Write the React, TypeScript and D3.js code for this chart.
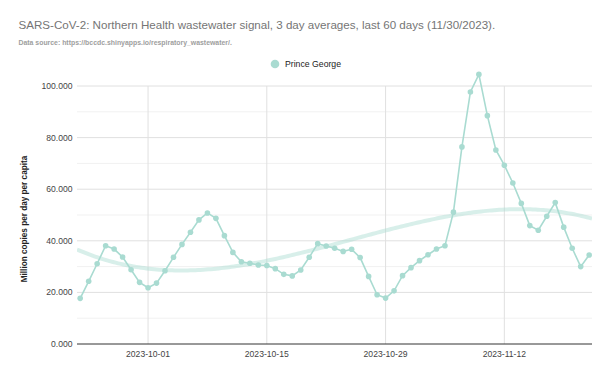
import React from "react";
import * as d3 from "d3";

const startDate = "2023-09-23";
const values: number[] = [
  17.7, 24.3, 31.1, 38.1, 36.8, 33.7, 28.8, 23.9,
  21.8, 23.6, 28.4, 33.6, 38.6, 43.3, 48.1, 50.8, 48.7, 42.0, 35.5, 31.9, 31.3, 30.6, 30.4, 29.2, 27.0, 26.4, 28.7, 33.6, 38.9, 38.0, 37.1, 35.9, 36.7, 33.5, 26.2, 19.1, 17.8, 20.6, 26.5,
  29.6, 32.3, 34.6, 36.8, 38.1, 51.1, 76.4, 97.7, 104.5, 88.5, 75.2, 69.3, 62.4, 54.5, 45.9, 44.1, 49.5, 54.8, 45.3, 37.1, 30.0, 34.5,
];
const xTickLabels = ["2023-10-01", "2023-10-15", "2023-10-29", "2023-11-12"];
const yTicks = [0, 20, 40, 60, 80, 100];
const yMinor = [10, 30, 50, 70, 90];
const seriesName = "Prince George";
const title = "SARS-CoV-2: Northern Health wastewater signal, 3 day averages, last 60 days (11/30/2023).";
const subtitle = "Data source: https://bccdc.shinyapps.io/respiratory_wastewater/.";

const W = 611, H = 377;
const L = 77, R = 592, T = 86, B = 344;
const COLOR = "#a9dbd1";
const FONT = "Liberation Sans, Arial, sans-serif";

const parse = d3.utcParse("%Y-%m-%d");
const day0 = parse(startDate)!;
const dates = values.map((_, i) => d3.utcDay.offset(day0, i));
const data = values.map((v, i) => ({ d: dates[i], v }));

// polynomial (cubic) least-squares trendline derived from the data
function polyFit(xs: number[], ys: number[], deg: number): number[] {
  const n = deg + 1;
  const A: number[][] = Array.from({ length: n }, () => new Array(n + 1).fill(0));
  for (let k = 0; k < xs.length; k++) {
    for (let i = 0; i < n; i++) {
      for (let j = 0; j < n; j++) A[i][j] += Math.pow(xs[k], i + j);
      A[i][n] += Math.pow(xs[k], i) * ys[k];
    }
  }
  for (let i = 0; i < n; i++) {
    let p = i;
    for (let r = i + 1; r < n; r++) if (Math.abs(A[r][i]) > Math.abs(A[p][i])) p = r;
    [A[i], A[p]] = [A[p], A[i]];
    for (let r = 0; r < n; r++) {
      if (r === i) continue;
      const f = A[r][i] / A[i][i];
      for (let c = i; c <= n; c++) A[r][c] -= f * A[i][c];
    }
  }
  return A.map((row, i) => row[n] / row[i]);
}

export default function App() {
  const x = d3
    .scaleUtc()
    .domain([d3.utcHour.offset(dates[0], -8.5), d3.utcHour.offset(dates[dates.length - 1], 8)])
    .range([L, R]);
  const y = d3.scaleLinear().domain([0, 100]).range([B, T]);

  const idx = values.map((_, i) => (i - 30) / 30);
  const coef = polyFit(idx, values, 3);
  const tDomain = x.domain();
  const trendPts = d3.range(0, 201).map((k) => {
    const t = new Date(+tDomain[0] + ((+tDomain[1] - +tDomain[0]) * k) / 200);
    const di = (+t - +day0) / 86400000;
    const u = (di - 30) / 30;
    const v = coef.reduce((s, c, p) => s + c * Math.pow(u, p), 0);
    return [x(t), y(v)] as [number, number];
  });

  const line = d3
    .line<{ d: Date; v: number }>()
    .x((p) => x(p.d))
    .y((p) => y(p.v));

  const tickDates = xTickLabels.map((s) => parse(s)!);

  return (
    <svg width={W} height={H} style={{ position: "absolute", left: 0, top: 0, background: "#fff" }} fontFamily={FONT}>
      <defs>
        <clipPath id="plotClip">
          <rect x={L} y={50} width={R - L} height={B - 50} />
        </clipPath>
      </defs>
      <text x={18.5} y={29} fontSize={11.6} fill="#757575">{title}</text>
      <text x={18.5} y={44.8} fontSize={6.9} fill="#9e9e9e" fontWeight="bold">{subtitle}</text>

      <circle cx={275} cy={64} r={4.3} fill={COLOR} />
      <text x={285} y={67.3} fontSize={8.7} fill="#222">{seriesName}</text>

      {yMinor.map((t) => (
        <line key={"m" + t} x1={L} x2={R} y1={y(t)} y2={y(t)} stroke="#f1f1f1" strokeWidth={1} />
      ))}
      {yTicks.filter((t) => t !== 0).map((t) => (
        <line key={"g" + t} x1={L} x2={R} y1={y(t)} y2={y(t)} stroke="#e0e0e0" strokeWidth={1} />
      ))}
      {tickDates.map((t, i) => (
        <line key={"v" + i} x1={x(t)} x2={x(t)} y1={T} y2={B} stroke="#e0e0e0" strokeWidth={1} />
      ))}
      <line x1={L} x2={R} y1={B} y2={B} stroke="#333" strokeWidth={1} />

      {yTicks.map((t) => (
        <text key={"yl" + t} x={72.5} y={y(t) + 3} fontSize={8.6} fill="#444" textAnchor="end">
          {d3.format(".3f")(t)}
        </text>
      ))}
      {tickDates.map((t, i) => (
        <text key={"xl" + i} x={x(t)} y={356.7} fontSize={8.6} fill="#444" textAnchor="middle">
          {xTickLabels[i]}
        </text>
      ))}
      <text
        transform={`translate(26.5,219) rotate(-90)`}
        fontSize={8.2}
        fontWeight="bold"
        fill="#222"
        textAnchor="middle"
      >
        Million copies per day per capita
      </text>

      <g clipPath="url(#plotClip)">
        <path d={d3.line()(trendPts) || ""} fill="none" stroke={COLOR} strokeOpacity={0.45} strokeWidth={4} />
        <path d={line(data) || ""} fill="none" stroke={COLOR} strokeWidth={1.6} />
        {data.map((p, i) => (
          <circle key={i} cx={x(p.d)} cy={y(p.v)} r={2.8} fill={COLOR} />
        ))}
      </g>
    </svg>
  );
}
